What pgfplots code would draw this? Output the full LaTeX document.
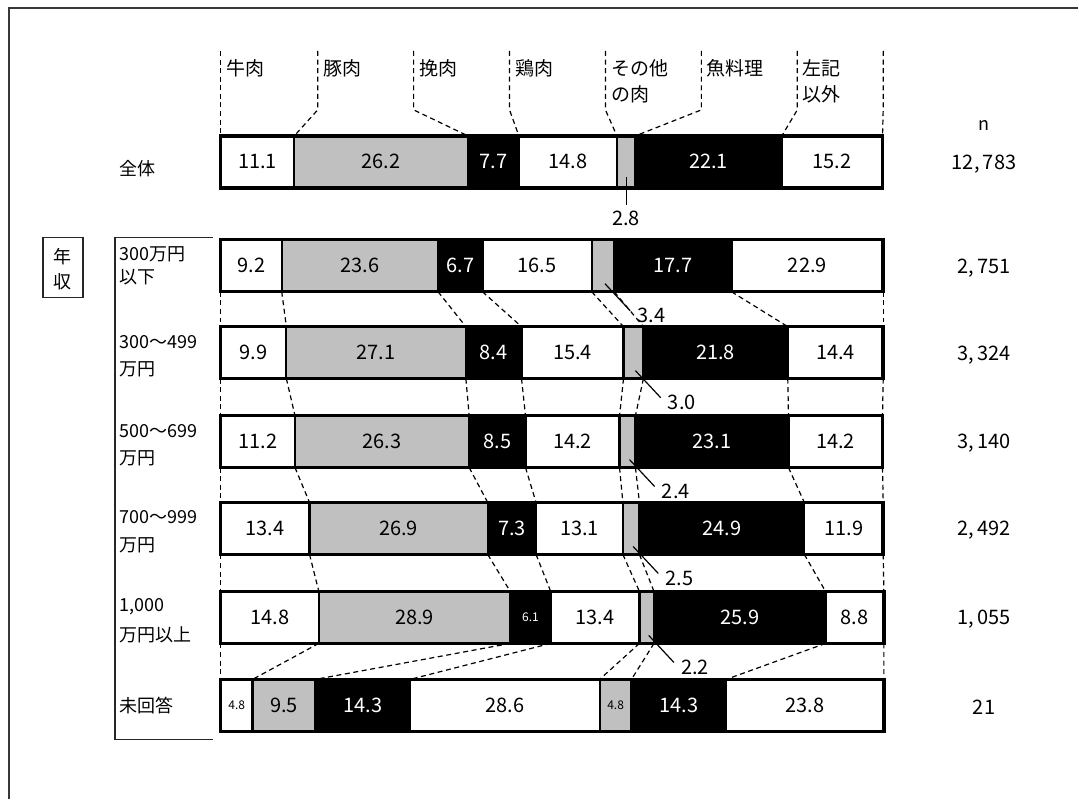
\documentclass[border=0pt]{standalone}
\usepackage{pgfplots}
\pgfplotsset{compat=1.18}
\usepackage{pgfplotstable}
\usepackage{fontspec}
\setmainfont{Noto Sans CJK JP}
\pgfkeys{/pgf/number format/assume math mode=true}
\definecolor{segGray}{HTML}{C0C0C0}
\definecolor{frameGray}{HTML}{383838}

% shares (%) of main dish per group; y = row centre, n = respondents
\pgfplotstableread{
y    a     b     c     d     e    f     g     n
162  11.1  26.2  7.7   14.8  2.8  22.1  15.2  12783
266  9.2   23.6  6.7   16.5  3.4  17.7  22.9  2751
353  9.9   27.1  8.4   15.4  3.0  21.8  14.4  3324
442  11.2  26.3  8.5   14.2  2.4  23.1  14.2  3140
529  13.4  26.9  7.3   13.1  2.5  24.9  11.9  2492
618  14.8  28.9  6.1   13.4  2.2  25.9  8.8   1055
706  4.8   9.5   14.3  28.6  4.8  14.3  23.8  21
}\shokuji

% cumulative segment boundaries of every row: \bd<row>-<k>, row centre \ry<row>
\foreach \r in {0,...,6}{%
  \pgfplotstablegetelem{\r}{y}\of\shokuji
  \expandafter\xdef\csname ry\r\endcsname{\pgfplotsretval}%
  \gdef\acc{0}%
  \expandafter\xdef\csname bd\r-0\endcsname{0}%
  \foreach \cc [count=\kk] in {a,b,c,d,e,f,g}{%
    \pgfplotstablegetelem{\r}{\cc}\of\shokuji
    \pgfmathsetmacro\tmpsum{\acc+\pgfplotsretval}%
    \xdef\acc{\tmpsum}%
    \expandafter\xdef\csname bd\r-\kk\endcsname{\acc}%
  }%
}

\newcommand{\jp}{\fontsize{9}{11}\selectfont}
\newcommand{\jph}{\fontsize{9.5}{11}\selectfont}

\pgfplotsset{
  base/.style={scale only axis, width=539.5pt, height=398pt,
    xmin=-33.3333, xmax=129.4118, ymin=0, ymax=796, y dir=reverse,
    hide axis, clip=false},
  seg/.style={draw=black, line width=1.1pt},
  conn/.style={black, line width=0.6pt, dash pattern=on 2.5pt off 1.8pt},
  leader/.style={black, line width=0.6pt},
  vlabel/.style={draw=none, mark=none, point meta=explicit,
    nodes near coords={\pgfmathprintnumber[fixed,fixed zerofill,precision=1]{\pgfplotspointmeta}},
    every node near coord/.append style={anchor=center, inner sep=0pt,
      font=\fontsize{10}{12}\selectfont, text=black}},
  small/.style={every node near coord/.append style={font=\fontsize{6}{7}\selectfont}},
  inv/.style={every node near coord/.append style={text=white}},
}

\begin{document}
\begin{tikzpicture}
% ---------- stacked bars ----------
\begin{axis}[base, xbar stacked, bar width=52]
\addplot[seg, fill=white]   table[x=a, y=y]{\shokuji};
\addplot[seg, fill=segGray] table[x=b, y=y]{\shokuji};
\addplot[seg, fill=black]   table[x=c, y=y]{\shokuji};
\addplot[seg, fill=white]   table[x=d, y=y]{\shokuji};
\addplot[seg, fill=segGray] table[x=e, y=y]{\shokuji};
\addplot[seg, fill=black]   table[x=f, y=y]{\shokuji};
\addplot[seg, fill=white]   table[x=g, y=y]{\shokuji};
\end{axis}

% ---------- frames, connectors and labels ----------
\begin{axis}[base]
\path (axis cs:-33.3333,0) rectangle (axis cs:129.4118,796);
% outer frame
\draw[frameGray, line width=1pt] (axis cs:-31.98,800) -- (axis cs:-31.98,8) -- (axis cs:129.4118,8);

% heavy outline of each bar
\addplot[xbar, bar shift=0pt, bar width=52, fill=none, draw=black, line width=1.7pt]
  table[x expr=\thisrow{a}+\thisrow{b}+\thisrow{c}+\thisrow{d}+\thisrow{e}+\thisrow{f}+\thisrow{g}, y=y]{\shokuji};

% header columns down to the first bar
\foreach \k/\hx in {0/0,1/14.63,2/29.11,3/43.59,4/58.07,5/72.55,6/87.03,7/100}{%
  \edef\tmp{\noexpand\addplot[conn] coordinates {(\hx,51) (\hx,110) (\csname bd0-\k\endcsname,136)};}%
  \tmp
}
% dashed links between the income rows
\foreach \r in {2,...,6}{%
  \pgfmathtruncatemacro\prv{\r-1}%
  \edef\yp{\csname ry\prv\endcsname}%
  \edef\yr{\csname ry\r\endcsname}%
  \pgfmathsetmacro\ya{\yp+26}%
  \pgfmathsetmacro\yb{\yr-26}%
  \foreach \k in {0,...,7}{%
    \edef\tmp{\noexpand\addplot[conn] coordinates {(\csname bd\prv-\k\endcsname,\ya) (\csname bd\r-\k\endcsname,\yb)};}%
    \tmp
  }%
}

% values inside the segments
\addplot[vlabel, skip coords between index={6}{7}]
  table[x expr=0.5*\thisrow{a}, y=y, meta=a]{\shokuji};
\addplot[vlabel, small, skip coords between index={0}{6}]
  table[x expr=0.5*\thisrow{a}, y=y, meta=a]{\shokuji};
\addplot[vlabel] table[x expr=\thisrow{a}+0.5*\thisrow{b}, y=y, meta=b]{\shokuji};
\addplot[vlabel, inv, skip coords between index={5}{6}]
  table[x expr=\thisrow{a}+\thisrow{b}+0.5*\thisrow{c}, y=y, meta=c]{\shokuji};
\addplot[vlabel, inv, small, skip coords between index={0}{5}, skip coords between index={6}{7}]
  table[x expr=\thisrow{a}+\thisrow{b}+0.5*\thisrow{c}, y=y, meta=c]{\shokuji};
\addplot[vlabel] table[x expr=\thisrow{a}+\thisrow{b}+\thisrow{c}+0.5*\thisrow{d}, y=y, meta=d]{\shokuji};
\addplot[vlabel, small, skip coords between index={0}{6}]
  table[x expr=\thisrow{a}+\thisrow{b}+\thisrow{c}+\thisrow{d}+0.5*\thisrow{e}, y=y, meta=e]{\shokuji};
\addplot[vlabel, inv]
  table[x expr=\thisrow{a}+\thisrow{b}+\thisrow{c}+\thisrow{d}+\thisrow{e}+0.5*\thisrow{f}, y=y, meta=f]{\shokuji};
\addplot[vlabel]
  table[x expr=\thisrow{a}+\thisrow{b}+\thisrow{c}+\thisrow{d}+\thisrow{e}+\thisrow{f}+0.5*\thisrow{g}, y=y, meta=g]{\shokuji};

% "other meat" values with leader lines
\addplot[leader, quiver={u=0, v=28}, skip coords between index={1}{7}]
  table[x expr=\thisrow{a}+\thisrow{b}+\thisrow{c}+\thisrow{d}+0.5*\thisrow{e}, y expr=\thisrow{y}+15]{\shokuji};
\addplot[vlabel, skip coords between index={1}{7}]
  table[x expr=\thisrow{a}+\thisrow{b}+\thisrow{c}+\thisrow{d}+0.5*\thisrow{e}, y expr=\thisrow{y}+57, meta=e]{\shokuji};
\addplot[leader, quiver={u=3.8, v=27}, skip coords between index={0}{1}, skip coords between index={6}{7}]
  table[x expr=\thisrow{a}+\thisrow{b}+\thisrow{c}+\thisrow{d}+0.5*\thisrow{e}+0.3, y expr=\thisrow{y}+18]{\shokuji};
\addplot[vlabel, skip coords between index={0}{1}, skip coords between index={6}{7}]
  table[x expr=\thisrow{a}+\thisrow{b}+\thisrow{c}+\thisrow{d}+0.5*\thisrow{e}+7.3, y expr=\thisrow{y}+50, meta=e]{\shokuji};

% respondents
\node[font=\jp] at (axis cs:115.23,126) {n};
\addplot[draw=none, mark=none, point meta=explicit,
  nodes near coords={\pgfmathprintnumber[fixed,precision=0,1000 sep={,\,}]{\pgfplotspointmeta}},
  every node near coord/.append style={anchor=center, inner sep=0pt, font=\fontsize{10}{12}\selectfont, text=black}]
  table[x expr=115.23, y expr=\thisrow{y}+2, meta=n]{\shokuji};

% column headings
\begin{scope}[every node/.style={anchor=west, inner sep=0pt, font=\jph}]
\node at (axis cs:0.8,68) {牛肉};
\node at (axis cs:15.4,68) {豚肉};
\node at (axis cs:29.9,68) {挽肉};
\node at (axis cs:44.4,68) {鶏肉};
\node at (axis cs:58.9,68) {その他};
\node at (axis cs:58.9,94) {の肉};
\node at (axis cs:73.3,68) {魚料理};
\node at (axis cs:87.8,68) {左記};
\node at (axis cs:87.8,94) {以外};
\end{scope}

% row headings
\begin{scope}[every node/.style={anchor=west, inner sep=0pt, font=\jp}]
\node at (axis cs:-15.38,169) {全体};
\node at (axis cs:-15.38,255) {300万円};
\node at (axis cs:-15.38,277) {以下};
\node at (axis cs:-15.38,342) {300～499};
\node at (axis cs:-15.38,370) {万円};
\node at (axis cs:-15.38,431) {500～699};
\node at (axis cs:-15.38,459) {万円};
\node at (axis cs:-15.38,518) {700～999};
\node at (axis cs:-15.38,546) {万円};
\node at (axis cs:-15.38,607) {1,000};
\node at (axis cs:-15.38,635) {万円以上};
\node at (axis cs:-15.38,706) {未回答};
\end{scope}

% income bracket and its box
\draw[black!85, line width=0.7pt] (axis cs:-1.21,238) -- (axis cs:-15.99,238) -- (axis cs:-15.99,740) -- (axis cs:-1.21,740);
\draw[black!85, line width=0.7pt] (axis cs:-26.85,238) rectangle (axis cs:-20.81,298);
\node[font=\jp] at (axis cs:-23.83,257) {年};
\node[font=\jp] at (axis cs:-23.83,282) {収};
\end{axis}
\end{tikzpicture}
\end{document}
